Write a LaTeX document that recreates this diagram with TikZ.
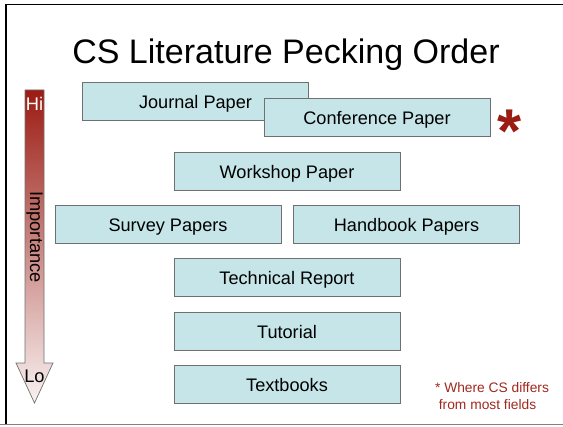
\documentclass[tikz,border=0pt]{standalone}
\usepackage{fontspec}
\setmainfont{Liberation Sans}
\usetikzlibrary{positioning, shadows}

\definecolor{boxfill}{HTML}{C6E5E8}
\definecolor{boxline}{HTML}{707070}
\definecolor{hired}{HTML}{9B1C13}
\definecolor{lored}{HTML}{F8F2F2}
\definecolor{notered}{HTML}{A0281E}

\begin{document}
\begin{tikzpicture}[
  x=0.025cm, y=-0.025cm,
  font        = \fontsize{12.9}{15}\selectfont,
  % all paper boxes share one size, text sits a little low
  paper/.style = {draw=boxline, fill=boxfill, line width=0.6pt,
                  minimum width=5.65cm, minimum height=0.95cm, inner sep=0pt,
                  text height=10.6pt, text depth=0pt,
                  drop shadow={shadow xshift=0.5pt, shadow yshift=-0.5pt,
                               fill=black!70, opacity=1}},
  arrowtext/.style = {font=\fontsize{13}{15}\selectfont},
]

\useasboundingbox (0,0) rectangle (563,426);

% ── Slide frame ────────────────────────────────────────────────────────────────
\draw[black, line width=1.2pt] (563,4.5) -- (6,4.5) -- (6,424);
\draw[gray, line width=1pt] (0,424.5) -- (563,424.5);

% ── Title ──────────────────────────────────────────────────────────────────────
\node[font=\fontsize{24.2}{28}\selectfont, anchor=base] (title) at (286,64)
      {CS Literature Pecking Order};

% ── Importance arrow ───────────────────────────────────────────────────────────
\shade[top color=hired, bottom color=lored, draw=boxline, line width=0.5pt]
  (25,90) -- (44,90) -- (44,363) -- (53,363) -- (34.5,403)
  -- (16,363) -- (25,363) -- cycle;
\node[arrowtext, text=white] (hi)  at (34.5,104) {Hi};
\node[arrowtext, rotate=-90] (imp) at (34.5,237) {Importance};
\node[arrowtext]             (lo)  at (34.5,376) {Lo};

% ── Paper boxes ────────────────────────────────────────────────────────────────
\node[paper] (journal)    at (195.5,101.5) {Journal Paper};
\node[paper] (conference) at (377,117.5)   {Conference Paper};
\node[paper] (workshop)   at (287,171)     {Workshop Paper};
\node[paper] (survey)     at (168,224)     {Survey Papers};
\node[paper] (handbook)   at (406.5,224)   {Handbook Papers};
\node[paper] (techreport) at (287,277)     {Technical Report};
\node[paper] (tutorial)   at (287,331)     {Tutorial};
\node[paper] (textbooks)  at (287,384)     {Textbooks};

% ── Footnote marker ────────────────────────────────────────────────────────────
\node[font=\fontsize{44}{44}\bfseries\selectfont, text=hired, anchor=base]
      (star) at (509.5,152) {*};
\node[font=\fontsize{9.8}{12}\selectfont, text=notered, align=left]
      (note) at (492,396) {* Where CS differs\\ \ from most fields};

\end{tikzpicture}
\end{document}
